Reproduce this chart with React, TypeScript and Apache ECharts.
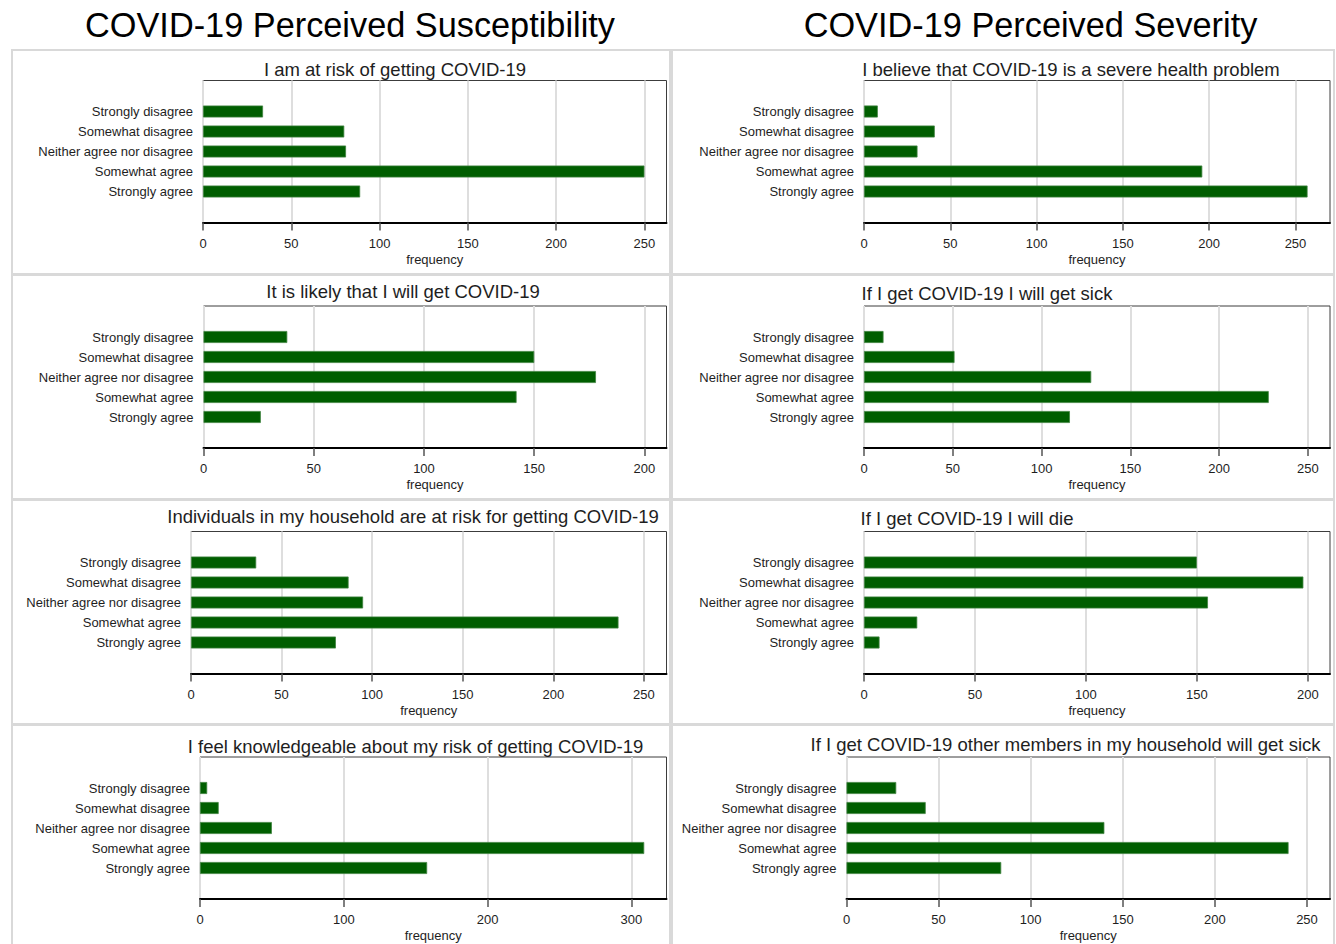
import React, { useEffect, useRef } from "react";
import * as echarts from "echarts";

// ---------- data ----------
const CATEGORIES = [
  "Strongly disagree",
  "Somewhat disagree",
  "Neither agree nor disagree",
  "Somewhat agree",
  "Strongly agree",
];

const MAIN_TITLES = ["COVID-19 Perceived Susceptibility", "COVID-19 Perceived Severity"];

const PANEL_TITLES = [
  "I am at risk of getting COVID-19",
  "I believe that COVID-19 is a severe health problem",
  "It is likely that I will get COVID-19",
  "If I get COVID-19 I will get sick",
  "Individuals in my household are at risk for getting COVID-19",
  "If I get COVID-19 I will die",
  "I feel knowledgeable about my risk of getting COVID-19",
  "If I get COVID-19 other members in my household will get sick",
];

const riskGetting = [34, 80, 81, 250, 89];
const severeProblem = [8, 41, 31, 196, 257];
const likelyGet = [38, 150, 178, 142, 26];
const willGetSick = [11, 51, 128, 228, 116];
const householdRisk = [36, 87, 95, 236, 80];
const willDie = [150, 198, 155, 24, 7];
const knowledgeable = [5, 13, 50, 309, 158];
const householdSick = [27, 43, 140, 240, 84];

const PANEL_VALUES = [
  riskGetting,
  severeProblem,
  likelyGet,
  willGetSick,
  householdRisk,
  willDie,
  knowledgeable,
  householdSick,
];

const ticks250 = [0, 50, 100, 150, 200, 250];
const ticks200 = [0, 50, 100, 150, 200];
const ticks300 = [0, 100, 200, 300];
const PANEL_TICKS = [ticks250, ticks250, ticks200, ticks250, ticks250, ticks200, ticks300, ticks250];
const PANEL_INTERVAL = [50, 50, 50, 50, 50, 50, 100, 50];
const PANEL_MAX = [262.5, 270, 210, 262.5, 262.5, 210, 324.5, 262.5];

// ---------- layout ----------
const PLOTS = [
  { l: 203, r: 666.5, t: 80.5, b: 222.5 },
  { l: 864, r: 1330, t: 80.5, b: 222.5 },
  { l: 203.5, r: 666.5, t: 306, b: 448 },
  { l: 864, r: 1330, t: 306, b: 448 },
  { l: 191, r: 666.5, t: 531.5, b: 673.5 },
  { l: 864, r: 1330, t: 531.5, b: 673.5 },
  { l: 200, r: 666.5, t: 757, b: 899 },
  { l: 846.5, r: 1330, t: 757, b: 899 },
];
const TITLE_POS = [
  [395, 69.5],
  [1071, 69.5],
  [403, 291.5],
  [987, 293],
  [413, 516.5],
  [967, 518],
  [415.5, 746],
  [1065.5, 744.5],
];
const PANEL_FRAMES = [
  [12, 50], [672, 50],
  [12, 275], [672, 275],
  [12, 500], [672, 500],
  [12, 725], [672, 725],
];

const FONT = "'Liberation Sans', Arial, Helvetica, sans-serif";
const TEXT_COLOR = "#1e1e1e";
const BAR_COLOR = "#005e00";

export default function App() {
  const ref = useRef<HTMLDivElement>(null);

  useEffect(() => {
    if (!ref.current) return;
    const chart = echarts.init(ref.current, null, { renderer: "svg" });

    const grid: any[] = [];
    const xAxis: any[] = [];
    const yAxis: any[] = [];
    const series: any[] = [];
    const graphic: any[] = [];

    PANEL_FRAMES.forEach(([x, y]) => {
      graphic.push({
        type: "rect",
        silent: true,
        z: -10,
        shape: { x, y, width: x < 600 ? 658 : 662, height: 224 },
        style: { fill: "none", stroke: "#d9d9d9", lineWidth: 2 },
      });
    });

    MAIN_TITLES.forEach((t, i) => {
      graphic.push({
        type: "text",
        x: i === 0 ? 350 : 1030.5,
        y: 25,
        style: {
          text: t,
          fontSize: 34.3,
          fontFamily: FONT,
          fill: "#000",
          align: "center",
          verticalAlign: "middle",
        },
      });
    });

    PANEL_TITLES.forEach((t, i) => {
      graphic.push({
        type: "text",
        x: TITLE_POS[i][0],
        y: TITLE_POS[i][1],
        style: {
          text: t,
          fontSize: 18.5,
          fontFamily: FONT,
          fill: TEXT_COLOR,
          align: "center",
          verticalAlign: "middle",
        },
      });
    });

    PLOTS.forEach((p, i) => {
      const w = p.r - p.l;
      const h = p.b - p.t;
      const gA = grid.length;
      grid.push({
        left: p.l,
        top: p.t,
        width: w,
        height: h,
        show: true,
        backgroundColor: "#fff",
        borderColor: "#3c3c3c",
        borderWidth: 1,
      });
      const gB = grid.length;
      grid.push({ left: p.l, top: p.t + 21, width: w, height: h - 42 });

      xAxis.push({
        type: "value",
        gridIndex: gA,
        min: 0,
        max: PANEL_MAX[i],
        interval: PANEL_INTERVAL[i],
        name: "frequency",
        nameLocation: "middle",
        nameGap: 30,
        nameTextStyle: { fontSize: 13, fontFamily: FONT, color: TEXT_COLOR },
        axisLine: { show: true, lineStyle: { color: "#000", width: 2 } },
        axisTick: {
          show: true,
          length: 8,
          customValues: PANEL_TICKS[i],
          lineStyle: { color: "#555", width: 1.5 },
        },
        axisLabel: {
          show: true,
          margin: 14,
          fontSize: 13,
          fontFamily: FONT,
          color: TEXT_COLOR,
          customValues: PANEL_TICKS[i],
        },
        splitLine: { show: true, lineStyle: { color: "#dedede", width: 2 } },
      });
      yAxis.push({ type: "value", gridIndex: gA, min: 0, max: 1, show: false });

      xAxis.push({
        type: "value",
        gridIndex: gB,
        min: 0,
        max: PANEL_MAX[i],
        show: false,
      });
      yAxis.push({
        type: "category",
        gridIndex: gB,
        inverse: true,
        data: CATEGORIES,
        axisLine: { show: false },
        axisTick: { show: false },
        splitLine: { show: false },
        axisLabel: {
          margin: 10,
          fontSize: 13,
          fontFamily: FONT,
          color: TEXT_COLOR,
        },
      });

      series.push({
        type: "bar",
        xAxisIndex: gB,
        yAxisIndex: gB,
        data: PANEL_VALUES[i],
        barWidth: 12,
        itemStyle: { color: BAR_COLOR, borderColor: "#3f833f", borderWidth: 0.8 },
        z: 3,
      });
    });

    chart.setOption({
      animation: false,
      backgroundColor: "#fff",
      grid,
      xAxis,
      yAxis,
      series,
      graphic,
    });

    return () => chart.dispose();
  }, []);

  return (
    <div
      ref={ref}
      style={{ position: "fixed", left: 0, top: 0, width: 1336, height: 944 }}
    />
  );
}
